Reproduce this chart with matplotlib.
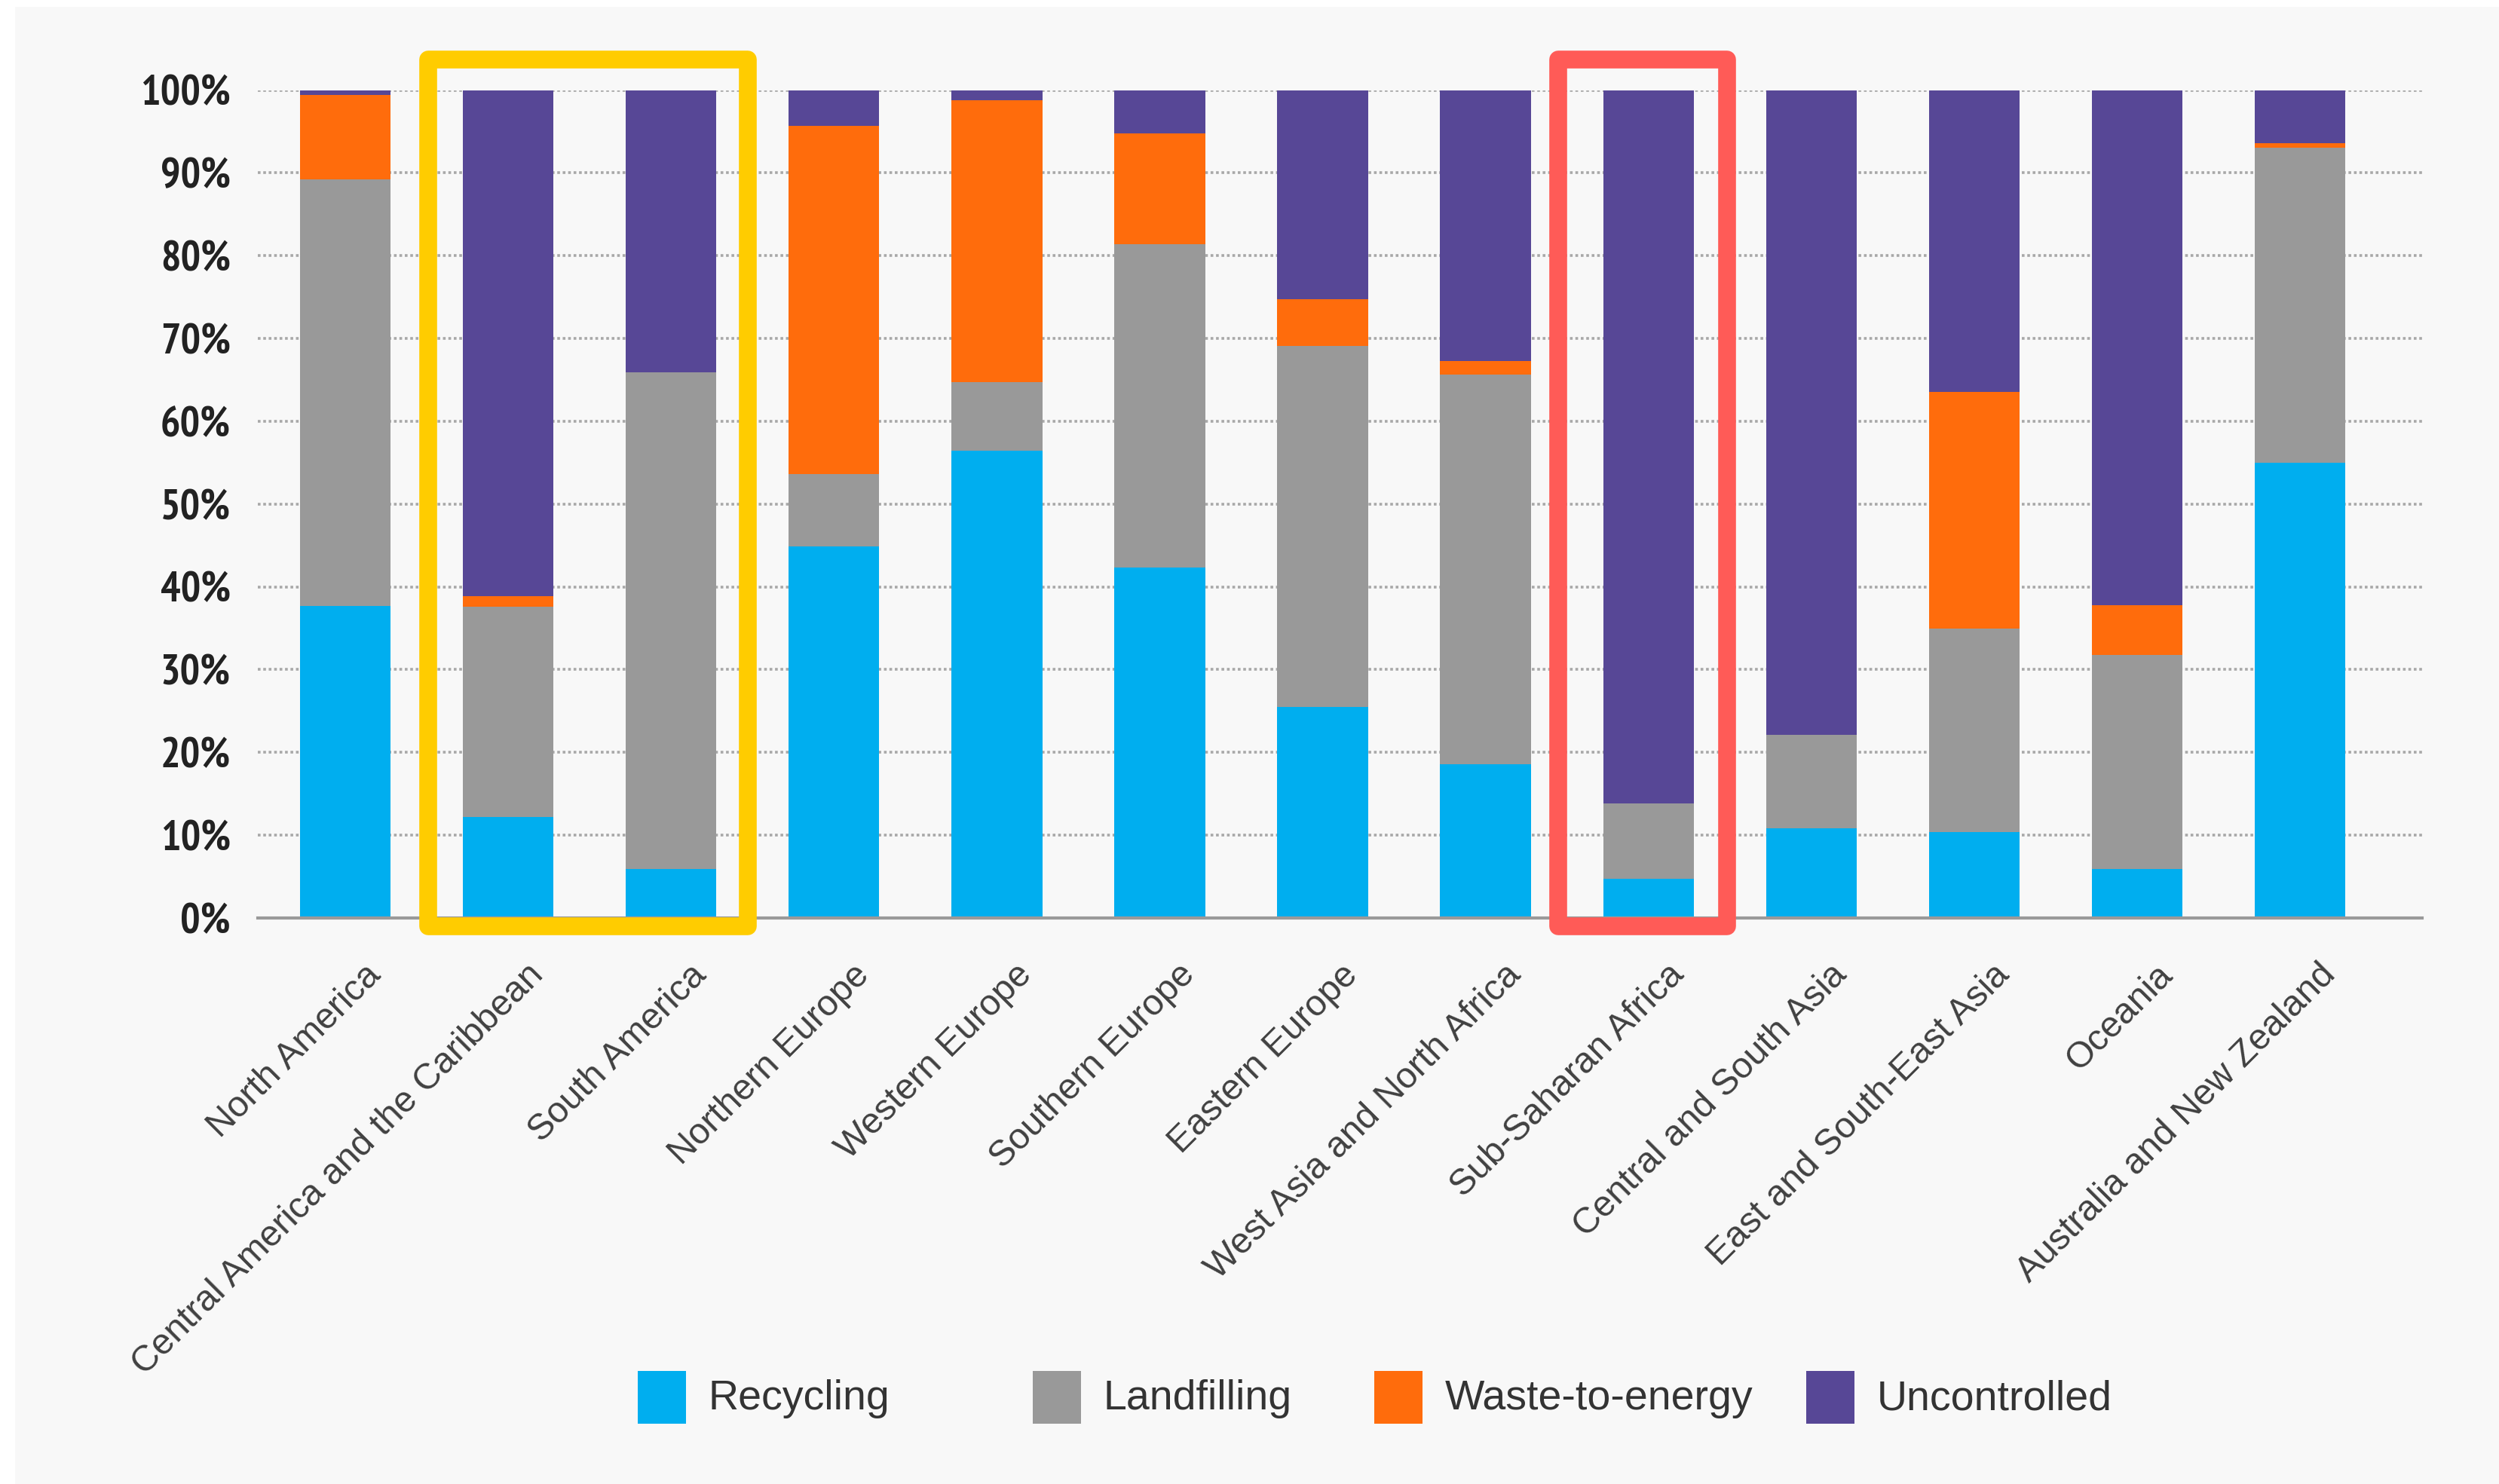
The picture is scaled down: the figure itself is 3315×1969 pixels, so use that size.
import numpy as np
import matplotlib
matplotlib.use("Agg")
import matplotlib.pyplot as plt
from matplotlib import font_manager
from matplotlib.patches import Rectangle
from matplotlib.transforms import ScaledTranslation

# Regional shares of municipal waste treatment (% of total)
regions = [
    "North America", "Central America and the Caribbean", "South America",
    "Northern Europe", "Western Europe", "Southern Europe", "Eastern Europe",
    "West Asia and North Africa", "Sub-Saharan Africa", "Central and South Asia",
    "East and South-East Asia", "Oceania", "Australia and New Zealand",
]
recycling = [37.7, 12.2, 5.9, 44.9, 56.4, 42.3, 25.5, 18.6, 4.7, 10.8, 10.4, 5.9, 55.0]
landfilling = [51.5, 25.4, 60.0, 8.7, 8.3, 39.1, 43.6, 47.0, 9.1, 11.3, 24.6, 25.9, 38.0]
waste_to_energy = [10.2, 1.3, 0.0, 42.1, 34.1, 13.4, 5.6, 1.7, 0.0, 0.0, 28.5, 6.0, 0.6]
uncontrolled = [0.6, 61.1, 34.1, 4.3, 1.2, 5.2, 25.3, 32.7, 86.2, 77.9, 36.5, 62.2, 6.4]

series_names = ["Recycling", "Landfilling", "Waste-to-energy", "Uncontrolled"]
series_colors = ["#00aeef", "#999999", "#ff6c0c", "#574796"]

# regions picked out with coloured frames
yellow_group = ["Central America and the Caribbean", "South America"]
red_group = ["Sub-Saharan Africa"]


def pick_font(names):
    for name in names:
        try:
            font_manager.findfont(name, fallback_to_default=False)
            return name
        except ValueError:
            continue
    return "DejaVu Sans"


def narrow_bold():
    # look for an installed narrow (preferred) or condensed bold face for the percent ticks
    found = {}
    for f in font_manager.fontManager.ttflist:
        tag = (f.name + " " + str(f.stretch)).lower()
        weight = f.weight if isinstance(f.weight, int) else 400
        if weight < 600 or f.style != "normal":
            continue
        if "narrow" in tag:
            found.setdefault("narrow", f.fname)
        elif "condensed" in tag:
            found.setdefault("condensed", f.fname)
    for key in ["narrow", "condensed"]:
        if key in found:
            return key, font_manager.FontProperties(fname=found[key])
    return None, None


label_font = pick_font(["Liberation Sans", "Arial", "Roboto"])
tick_kind, tick_props = narrow_bold()

fig = plt.figure(figsize=(16.58, 9.845), dpi=200, facecolor="white")
fig.patches.append(Rectangle((20 / 3316, 0), 1, 1 - 9 / 1969, transform=fig.transFigure,
                             facecolor="#f8f8f8", edgecolor="none", zorder=-10))

ax = fig.add_axes([0.1031, 0.3814, 0.969 - 0.1031, 0.9393 - 0.3814])
ax.set_facecolor("none")

x = np.arange(len(regions))
stack = [recycling, landfilling, waste_to_energy, uncontrolled]
bottom = np.zeros(len(regions))
for values, name, color in zip(stack, series_names, series_colors):
    ax.bar(x, values, width=0.557, bottom=bottom, color=color, label=name,
           linewidth=0, zorder=2)
    bottom = bottom + np.array(values)

ax.set_xlim(-0.537, len(regions) - 1 + 0.75)
ax.set_ylim(0, 100)
ax.set_yticks(np.arange(0, 101, 10))
ax.set_yticklabels([f"{v}%" for v in range(0, 101, 10)])
ax.yaxis.grid(True, linestyle=(0, (1, 1)), linewidth=1.3, color="#a8a8a8", zorder=0)
ax.set_axisbelow(True)

for side in ["top", "right", "left"]:
    ax.spines[side].set_visible(False)
ax.spines["bottom"].set_color("#9a9a9a")
ax.spines["bottom"].set_linewidth(1.5)

ax.tick_params(axis="y", length=0, pad=13, labelcolor="#222222")
ax.tick_params(axis="x", length=0, pad=19, labelsize=17.3, labelcolor="#404040")
for lab in ax.get_yticklabels():
    if tick_props is not None:
        lab.set_fontproperties(tick_props)
        lab.set_fontsize(20 if tick_kind == "narrow" else 16.5)
    else:
        lab.set_fontfamily("Roboto")
        lab.set_fontweight("bold")
        lab.set_fontsize(17)

ax.set_xticks(x)
ax.set_xticklabels(regions, fontfamily=label_font)
shift = ScaledTranslation(0.12, 0, fig.dpi_scale_trans)
for lab in ax.get_xticklabels():
    lab.set_rotation(45)
    lab.set_ha("right")
    lab.set_rotation_mode("anchor")
    lab.set_transform(lab.get_transform() + shift)

# coloured frames around highlighted regions
def frame(names, color, left_pad, right_pad):
    idx = [regions.index(n) for n in names]
    x0 = min(idx) - left_pad
    x1 = max(idx) + right_pad
    rect = Rectangle((x0, -1.0), x1 - x0, 104.7, fill=False, edgecolor=color,
                     linewidth=8.5, joinstyle="round", clip_on=False, zorder=5)
    ax.add_patch(rect)

frame(yellow_group, "#ffcc00", 0.491, 0.47)
frame(red_group, "#ff5b57", 0.553, 0.483)

# legend drawn as a row of swatches under the labels
legend_x = [846, 1370, 1823, 2396]
for name, color, px in zip(series_names, series_colors, legend_x):
    fig.patches.append(Rectangle((px / 3316, 1 - 1889 / 1969), 64 / 3316, 70 / 1969,
                                 transform=fig.transFigure, facecolor=color,
                                 edgecolor="none"))
    fig.text((px + 94) / 3316, 1 - 1856 / 1969, name, fontsize=20,
             fontfamily=label_font, color="#333333", va="center", ha="left")

fig.savefig("out.png", dpi=200, facecolor=fig.get_facecolor())
